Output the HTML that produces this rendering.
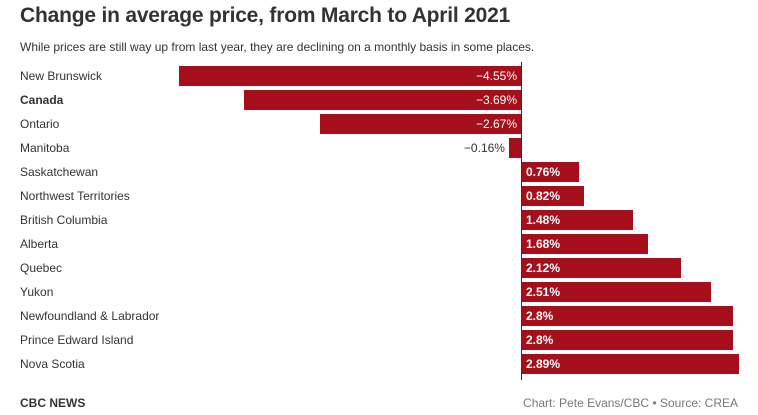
<!DOCTYPE html>
<html><head><meta charset="utf-8"><style>
body{margin:0;width:758px;height:415px;background:#fff;font-family:"Liberation Sans",sans-serif;position:relative;overflow:hidden}
.t{position:absolute;left:20px;top:4px;font-size:21px;font-weight:bold;color:#333;letter-spacing:-0.2px}
.s{position:absolute;left:20px;top:40px;font-size:12px;color:#333}
.l{position:absolute;left:20px;font-size:12px;color:#333;line-height:20px}
.b{position:absolute;height:20px;background:#a50f1b}
.v{position:absolute;font-size:12px;line-height:20px;color:#fff}
.ax{position:absolute;left:521px;top:62px;width:1px;height:318px;background:#333}
.f1{position:absolute;left:20px;top:396px;font-size:12px;font-weight:bold;color:#333}
.f2{position:absolute;right:20px;top:396px;font-size:12px;color:#777}
</style></head><body>
<div class="t">Change in average price, from March to April 2021</div>
<div class="s">While prices are still way up from last year, they are declining on a monthly basis in some places.</div>
<div id="c"></div>
<div class="ax"></div>
<div class="f1">CBC NEWS</div>
<div class="f2">Chart: Pete Evans/CBC • Source: CREA</div>
<script>
var d=[["New Brunswick",-4.55,"−4.55%"],["Canada",-3.69,"−3.69%"],["Ontario",-2.67,"−2.67%"],["Manitoba",-0.16,"−0.16%"],["Saskatchewan",0.76,"0.76%"],["Northwest Territories",0.82,"0.82%"],["British Columbia",1.48,"1.48%"],["Alberta",1.68,"1.68%"],["Quebec",2.12,"2.12%"],["Yukon",2.51,"2.51%"],["Newfoundland & Labrador",2.8,"2.8%"],["Prince Edward Island",2.8,"2.8%"],["Nova Scotia",2.89,"2.89%"]];
var h="",z=521,k=75.2;
d.forEach(function(r,i){var y=66+i*24,w=Math.abs(r[1])*k;
h+='<div class="l" style="top:'+y+'px'+(r[0]=="Canada"?';font-weight:bold':'')+'">'+r[0]+'</div>';
if(r[1]<0){h+='<div class="b" style="top:'+y+'px;left:'+(z-w)+'px;width:'+w+'px"></div>';
if(w>60)h+='<div class="v" style="top:'+y+'px;right:'+(758-z+4)+'px">'+r[2]+'</div>';
else h+='<div class="v" style="top:'+y+'px;right:'+(758-z+w+4)+'px;color:#333">'+r[2]+'</div>';}
else{h+='<div class="b" style="top:'+y+'px;left:'+(z+1)+'px;width:'+w+'px"></div>';
h+='<div class="v" style="top:'+y+'px;left:'+(z+5)+'px;font-weight:bold">'+r[2]+'</div>';}});
document.getElementById("c").innerHTML=h;
</script>
</body></html>
